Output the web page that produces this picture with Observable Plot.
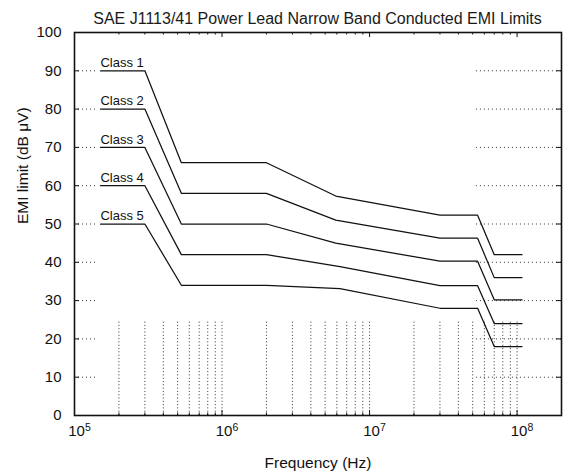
<!DOCTYPE html>
<html><head><meta charset="utf-8">
<script src="https://cdn.jsdelivr.net/npm/d3@7"></script>
<script src="https://cdn.jsdelivr.net/npm/@observablehq/plot@0.6"></script>
<style>
body{margin:0;background:#fff;font-family:"Liberation Sans",Arial,Helvetica,sans-serif;}
#title{position:relative;z-index:1;box-sizing:border-box;height:24px;padding:7px 2px 0 74px;line-height:24px;font-size:16px;text-align:center;color:#1a1a1a;white-space:nowrap;}
</style></head><body>
<div id="title">SAE J1113/41 Power Lead Narrow Band Conducted EMI Limits</div>
<div id="chart"></div>
<script>
const classNames = ["Class 1", "Class 2", "Class 3", "Class 4", "Class 5"];
const freqsA = [1.5e5, 3e5, 5.3e5, 2e6, 5.9e6, 3e7, 5.4e7, 7e7, 1.08e8];
const freqsB = [1.5e5, 3e5, 5.3e5, 2e6, 6.3e6, 3e7, 5.4e7, 7e7, 1.08e8];
const class1 = [90, 90, 66, 66, 57.3, 52.3, 52.3, 42, 42];
const class2 = [80, 80, 58, 58, 51, 46.3, 46.3, 36, 36];
const class3 = [70, 70, 50, 50, 45, 40.3, 40.3, 30.2, 30.2];
const class4 = [60, 60, 42, 42, 38.9, 33.9, 33.9, 24, 24];
const class5 = [50, 50, 34, 34, 33.1, 28, 28, 18, 18];
const classFreqs = [freqsA, freqsA, freqsA, freqsB, freqsB];
const classLimits = [class1, class2, class3, class4, class5];

const xDomain = [1e5, 2e8];
const yDomain = [0, 100];
const xMajorTicks = [1e5, 1e6, 1e7, 1e8];
const xExponents = ["5", "6", "7", "8"];
const xMinorTicks = [2e5, 3e5, 4e5, 5e5, 6e5, 7e5, 8e5, 9e5,
                     2e6, 3e6, 4e6, 5e6, 6e6, 7e6, 8e6, 9e6,
                     2e7, 3e7, 4e7, 5e7, 6e7, 7e7, 8e7, 9e7];
const yTicks = [0, 10, 20, 30, 40, 50, 60, 70, 80, 90, 100];
const yGridLevels = [10, 20, 30, 40, 50, 60, 70, 80, 90];
const xGridLines = [2e5, 3e5, 4e5, 5e5, 6e5, 7e5, 8e5, 9e5, 1e6,
                    2e6, 3e6, 4e6, 5e6, 6e6, 7e6, 8e6, 9e6, 1e7,
                    2e7, 3e7, 4e7, 5e7, 6e7, 7e7, 8e7, 9e7, 1e8];
const gridLeftEnd = 1.4e5, gridRightStart = 5.3e7, gridTop = 25;

const rows = [];
classNames.forEach((c, i) => classFreqs[i].forEach((f, j) => rows.push({cls: c, f, v: classLimits[i][j]})));
const labelRows = classNames.map((c, i) => ({cls: c, f: classFreqs[i][0], v: classLimits[i][0]}));

const W = 563, H = 451, mL = 74, mR = 2, mT = 8, mB = 60;
const innerW = W - mL - mR, innerH = H - mT - mB;
const majorLen = 5, minorLen = 2.5, yTickLen = 5;
const hGridStyle = {stroke: "#333", strokeWidth: 1, strokeDasharray: "1,3"};
const vGridStyle = {stroke: "#333", strokeWidth: 1, strokeDasharray: "1,2.3"};

const chart = Plot.plot({
  width: W, height: H,
  marginLeft: mL, marginRight: mR, marginTop: mT, marginBottom: mB,
  style: {fontFamily: '"Liberation Sans", Arial, Helvetica, sans-serif', background: "transparent", overflow: "visible", color: "#111"},
  x: {type: "log", domain: xDomain, axis: null},
  y: {domain: yDomain, axis: null},
  marks: [
    Plot.ruleY(yGridLevels, {y: d => d, x1: xDomain[0], x2: gridLeftEnd, ...hGridStyle}),
    Plot.ruleY(yGridLevels, {y: d => d, x1: gridRightStart, x2: xDomain[1], ...hGridStyle}),
    Plot.ruleX(xGridLines, {x: d => d, y1: yDomain[0], y2: gridTop, ...vGridStyle}),
    Plot.line(rows, {x: "f", y: "v", z: "cls", stroke: "#111", strokeWidth: 1.25}),
    Plot.text(labelRows, {x: "f", y: "v", text: "cls", textAnchor: "start", dy: -8, fontSize: 13, fill: "#111"}),
    Plot.tickX(xMajorTicks, {x: d => d, insetTop: innerH - majorLen, stroke: "#111"}),
    Plot.tickX(xMajorTicks, {x: d => d, insetBottom: innerH - majorLen, stroke: "#111"}),
    Plot.tickX(xMinorTicks, {x: d => d, insetTop: innerH - minorLen, stroke: "#111"}),
    Plot.tickX(xMinorTicks, {x: d => d, insetBottom: innerH - minorLen, stroke: "#111"}),
    Plot.tickY(yGridLevels, {y: d => d, insetRight: innerW - yTickLen, stroke: "#111"}),
    Plot.tickY(yGridLevels, {y: d => d, insetLeft: innerW - yTickLen, stroke: "#111"}),
    Plot.frame({stroke: "#111", strokeWidth: 1.6}),
    Plot.text(yTicks, {y: d => d, frameAnchor: "left", textAnchor: "end", dx: -13, fontSize: 15, text: d => String(d), fill: "#111"}),
    Plot.text(xMajorTicks, {x: d => d, frameAnchor: "bottom", dy: 20, dx: 2, fontSize: 15, text: () => "10", fill: "#111"}),
    Plot.text(xMajorTicks, {x: d => d, frameAnchor: "bottom", dy: 15, dx: 10.5, textAnchor: "start", fontSize: 10.5, text: (d, i) => xExponents[i], fill: "#111"}),
    Plot.text(["Frequency (Hz)"], {frameAnchor: "bottom", dy: 52, fontSize: 15.5, text: d => d, fill: "#111"}),
    Plot.text(["EMI limit (dB μV)"], {frameAnchor: "left", dx: -51, rotate: -90, fontSize: 15.5, text: d => d, fill: "#111"})
  ]
});
document.getElementById("chart").appendChild(chart);
</script>
</body></html>
